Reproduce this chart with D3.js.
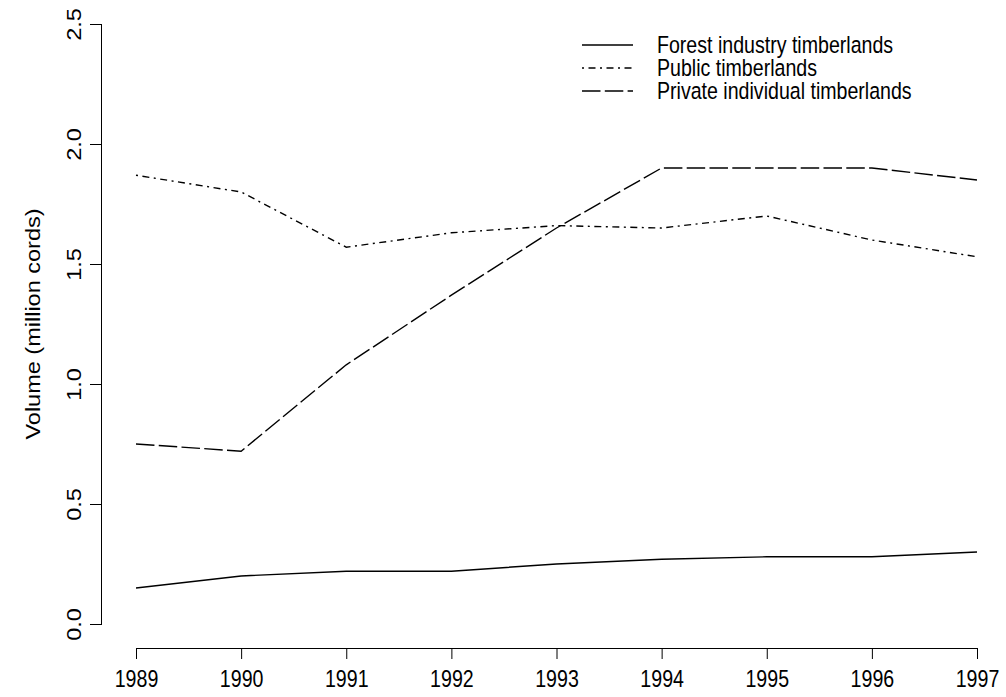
<!DOCTYPE html>
<html>
<head>
<meta charset="utf-8">
<script src="https://cdn.jsdelivr.net/npm/d3@7"></script>
<style>
  html, body { margin: 0; padding: 0; background: #fff; }
  svg { display: block; }
  text { font-family: "Liberation Sans", Arial, sans-serif; fill: #000; }
</style>
</head>
<body>
<svg id="chart" width="1006" height="697"></svg>
<script>
// Annual harvest volume by ownership class, million cords
const years = [1989, 1990, 1991, 1992, 1993, 1994, 1995, 1996, 1997];
const forestIndustry = [0.15, 0.20, 0.22, 0.22, 0.25, 0.27, 0.28, 0.28, 0.30];
const publicLands    = [1.87, 1.80, 1.57, 1.63, 1.66, 1.65, 1.70, 1.60, 1.53];
const privateIndiv   = [0.75, 0.72, 1.08, 1.37, 1.65, 1.90, 1.90, 1.90, 1.85];
const yTicks = [0, 0.5, 1.0, 1.5, 2.0, 2.5];
const seriesNames = ["Forest industry timberlands", "Public timberlands", "Private individual timberlands"];
const yTitle = "Volume (million cords)";

const series = [
  { name: seriesNames[0], values: forestIndustry, dash: null },
  { name: seriesNames[1], values: publicLands,    dash: "2,4.5,7,4.5" },
  { name: seriesNames[2], values: privateIndiv,   dash: "18.5,4.3" }
];

const svg = d3.select("#chart");
const fontSize = 19.6;
const stretch = "scale(1,1.2)"; // glyphs are drawn a little taller than wide

const x = d3.scaleLinear().domain([1989, 1997]).range([136, 977]);
const y = d3.scaleLinear().domain([0, 2.5]).range([624, 24]);

// x axis sits below the plotting region, R style (no box)
const xAxis = svg.append("g")
  .attr("transform", "translate(0,648)")
  .call(d3.axisBottom(x).tickValues(years).tickFormat(d3.format("d")).tickSize(11).tickSizeOuter(0).tickPadding(0));
xAxis.select(".domain").attr("d", `M${x(1989)},0.5H${x(1997)}`).attr("stroke", "#000").attr("stroke-width", 1);
xAxis.selectAll(".tick line").attr("stroke", "#000");
xAxis.selectAll(".tick text")
  .attr("y", null).attr("dy", null)
  .attr("transform", `translate(0,39) ${stretch}`)
  .style("font-size", fontSize + "px");

const yAxis = svg.append("g")
  .attr("transform", "translate(102,0)")
  .call(d3.axisLeft(y).tickValues(yTicks).tickFormat(d3.format(".1f")).tickSize(12).tickSizeOuter(0));
yAxis.select(".domain").attr("d", `M-0.5,${y(0)}V${y(2.5)}`).attr("stroke", "#000").attr("stroke-width", 1);
yAxis.selectAll(".tick line").attr("stroke", "#000");
yAxis.selectAll(".tick text")
  .attr("x", null).attr("dy", null)
  .attr("transform", `translate(-21,0) ${stretch} rotate(-90)`)
  .attr("text-anchor", "middle")
  .style("font-size", fontSize + "px");

svg.append("text")
  .attr("transform", `translate(40,${(y(0) + y(2.5)) / 2}) ${stretch} rotate(-90)`)
  .attr("text-anchor", "middle")
  .style("font-size", fontSize + "px")
  .text(yTitle);

const line = d3.line()
  .x((d, i) => x(years[i]))
  .y(d => y(d));

svg.append("g").selectAll("path")
  .data(series)
  .join("path")
  .attr("d", s => line(s.values))
  .attr("fill", "none")
  .attr("stroke", "#000")
  .attr("stroke-width", 1.4)
  .attr("stroke-dasharray", s => s.dash);

// legend
const legend = svg.append("g").attr("transform", "translate(582,45)");
const rows = legend.selectAll("g").data(series).join("g")
  .attr("transform", (d, i) => `translate(0,${i * 23})`);
rows.append("line")
  .attr("x1", 0).attr("x2", 51).attr("y1", 0).attr("y2", 0)
  .attr("stroke", "#000").attr("stroke-width", 1.4)
  .attr("stroke-dasharray", d => d.dash);
rows.append("text")
  .attr("transform", `translate(75,0) ${stretch}`)
  .attr("dy", "0.36em")
  .style("font-size", fontSize + "px")
  .text(d => d.name);
</script>
</body>
</html>
